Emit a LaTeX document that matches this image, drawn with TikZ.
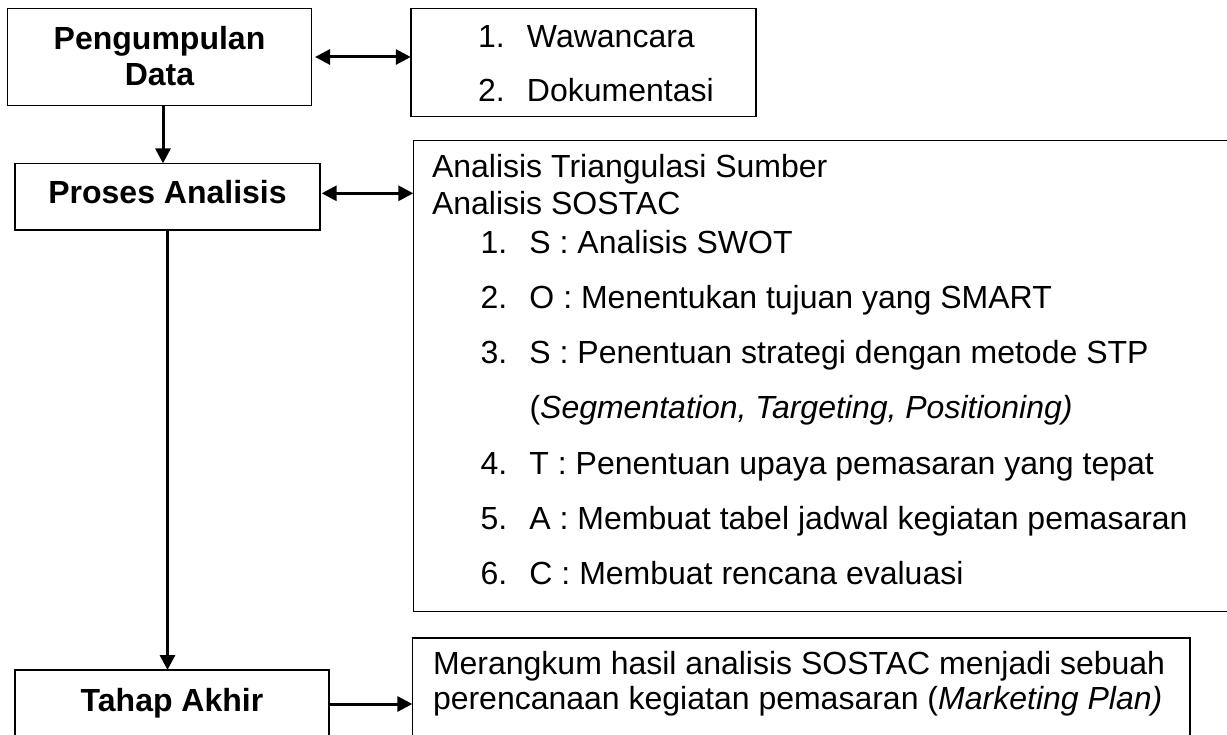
\documentclass[tikz,border=0pt]{standalone}
\usepackage{fontspec}
\setmainfont{Liberation Sans}
\usetikzlibrary{arrows.meta}
\newcommand\lnum[1]{\makebox[49pt][l]{#1}}
\begin{document}
\begin{tikzpicture}[x=1pt,y=-1pt,
  box/.style={draw, line width=1.5pt, inner sep=0pt, outer sep=0pt, rectangle},
  conn/.style={line width=3pt, -{Triangle[length=15pt,width=15pt]}},
  dconn/.style={line width=3pt, {Triangle[length=15pt,width=15pt]}-{Triangle[length=15pt,width=15pt]}},
  txt/.style={inner sep=0pt, outer sep=0pt, font=\fontsize{32}{38}\selectfont},
  btxt/.style={inner sep=0pt, outer sep=0pt, font=\fontsize{32}{38}\selectfont\bfseries},
]
\fill[white] (0,0) rectangle (1227,735);
\useasboundingbox (0,0) rectangle (1227,735);

% boxes
\node[box, minimum width=304pt, minimum height=97.4pt] (b1) at (159.5,57) {};
\node[box, minimum width=345.3pt, minimum height=108.4pt] (b2) at (583.4,62.5) {};
\node[box, minimum width=305pt, minimum height=66.7pt] (b3) at (167.5,196.7) {};
\node[box, minimum width=826.7pt, minimum height=471pt] (b4) at (826.65,376.2) {};
\node[box, minimum width=313.7pt, minimum height=90pt] (b5) at (171.9,715) {};
\node[box, minimum width=777.7pt, minimum height=122.3pt] (b6) at (801.2,698.9) {};

% connectors
\draw[dconn, shorten <=3.5pt] (b1.east) -- (b1.east -| b2.west);
\draw[dconn, shorten <=1.7pt] ([yshift=3.4pt]b3.east) -- ([yshift=3.4pt]b3.east -| b4.west);
\draw[conn, shorten <=1.3pt] ([yshift=11pt]b5.east) -- ([yshift=11pt]b5.east -| b6.west);
\draw[conn] ([xshift=3.5pt]b1.south) -- ([xshift=3.5pt]b1.south |- b3.north);
\draw[conn] (b3.south) -- (b3.south |- b5.north);

% texts
\node[btxt, anchor=base] (t1a) at (159.5,50) {Pengumpulan};
\node[btxt, anchor=base] (t1b) at (159.5,86) {Data};
\node[txt, anchor=base west] (t2a) at (478,48) {\lnum{1.}Wawancara};
\node[txt, anchor=base west] (t2b) at (478,102) {\lnum{2.}Dokumentasi};
\node[btxt, anchor=base] (t3) at (167.5,204) {Proses Analisis};
\node[txt, anchor=base west] (t4a) at (432,177.7) {Analisis Triangulasi Sumber};
\node[txt, anchor=base west] (t4b) at (432,215) {Analisis SOSTAC};
\node[txt, anchor=base west] (i1) at (480.5,254) {\lnum{1.}S : Analisis SWOT};
\node[txt, anchor=base west] (i2) at (480.5,309) {\lnum{2.}O : Menentukan tujuan yang SMART};
\node[txt, anchor=base west] (i3) at (480.5,364) {\lnum{3.}S : Penentuan strategi dengan metode STP};
\node[txt, anchor=base west] (i3b) at (529.5,419) {(\textit{Segmentation, Targeting, Positioning)}};
\node[txt, anchor=base west] (i4) at (480.5,474) {\lnum{4.}T : Penentuan upaya pemasaran yang tepat};
\node[txt, anchor=base west] (i5) at (480.5,529) {\lnum{5.}A : Membuat tabel jadwal kegiatan pemasaran};
\node[txt, anchor=base west] (i6) at (480.5,584) {\lnum{6.}C : Membuat rencana evaluasi};
\node[btxt, anchor=base] (t5) at (172,711.7) {Tahap Akhir};
\node[txt, anchor=base west] (t6a) at (433,674) {Merangkum hasil analisis SOSTAC menjadi sebuah};
\node[txt, anchor=base west] (t6b) at (433,709) {perencanaan kegiatan pemasaran (\textit{Marketing Plan)}};
\end{tikzpicture}
\end{document}
